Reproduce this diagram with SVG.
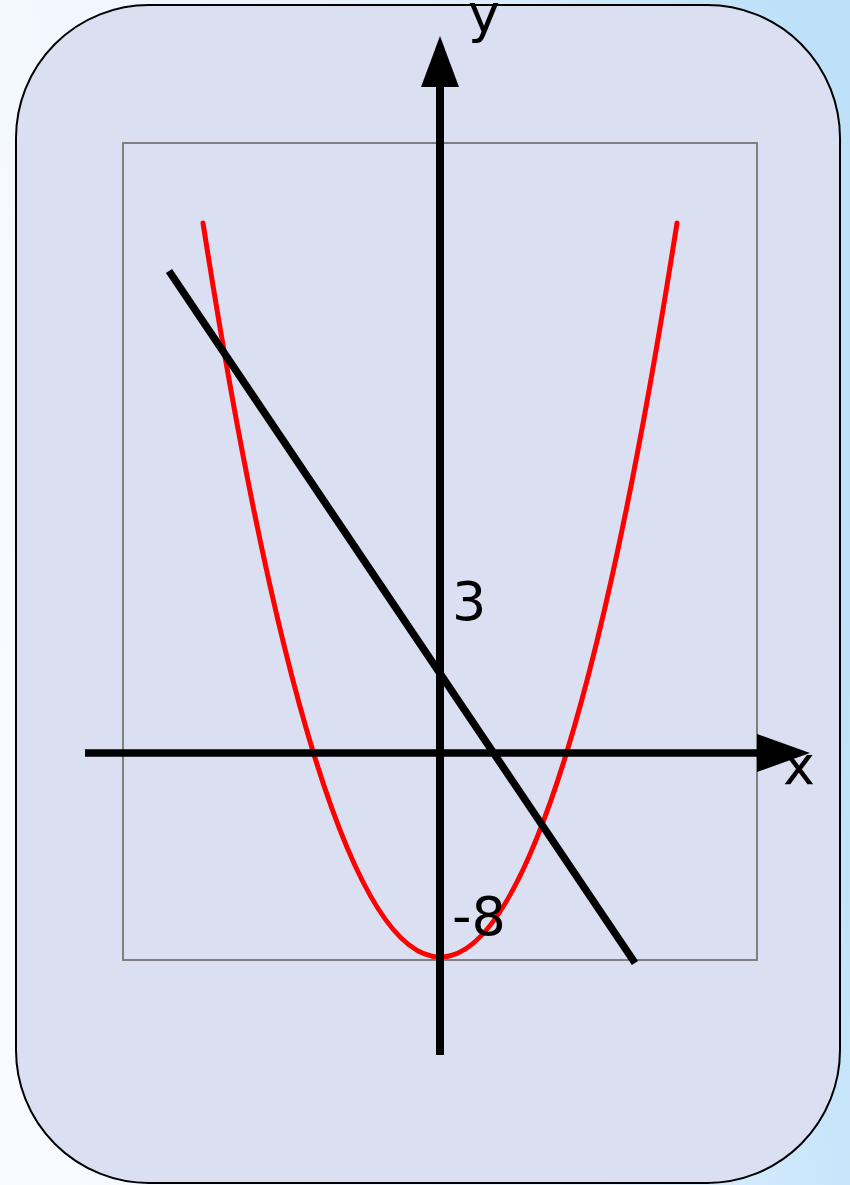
<svg xmlns="http://www.w3.org/2000/svg" width="850" height="1185" viewBox="0 0 850 1185">
<defs>
<linearGradient id="bg" x1="0" y1="0.6" x2="1" y2="0.4">
<stop offset="0" stop-color="#f8fbff"/>
<stop offset="0.55" stop-color="#e6f2fd"/>
<stop offset="1" stop-color="#bce1f9"/>
</linearGradient>
<style>
.lbl{font-family:"DejaVu Sans",sans-serif;font-size:54px;fill:#000}
.axis{stroke:#000;stroke-width:8;fill:none}
</style>
</defs>
<rect x="0" y="0" width="850" height="1185" fill="url(#bg)"/>
<g id="panel">
<rect x="16" y="5" width="824" height="1178" rx="133" ry="133" fill="#dbdff2" stroke="#000" stroke-width="2"/>
</g>
<g id="frame">
<rect x="123" y="143" width="634" height="817" fill="none" stroke="#808080" stroke-width="2"/>
</g>
<g id="curves">
<path id="parabola" d="M203 223 C239.83 458.97 276.67 633.04 313.5 753 C355.67 890.35 397.83 957 440 957 C482.17 957 524.33 890.35 566.5 753 C603.33 633.04 640.17 458.97 677 223" fill="none" stroke="#ff0000" stroke-width="5" stroke-linecap="round"/>
<line id="line" x1="169" y1="271" x2="635" y2="963" stroke="#000" stroke-width="7.5"/>
</g>
<g id="axes">
<line class="axis" x1="85" y1="753" x2="758" y2="753" style="stroke-width:7.5"/>
<polygon points="810,753 757,734 757,772" fill="#000"/>
<line class="axis" x1="440" y1="1055" x2="440" y2="86"/>
<polygon points="440,36 421,87 459,87" fill="#000"/>
</g>
<g id="labels">
<text class="lbl" x="468" y="32">y</text>
<text class="lbl" x="783" y="784">x</text>
<text class="lbl" x="452" y="620">3</text>
<text class="lbl" x="452" y="935">-8</text>
</g>
</svg>
